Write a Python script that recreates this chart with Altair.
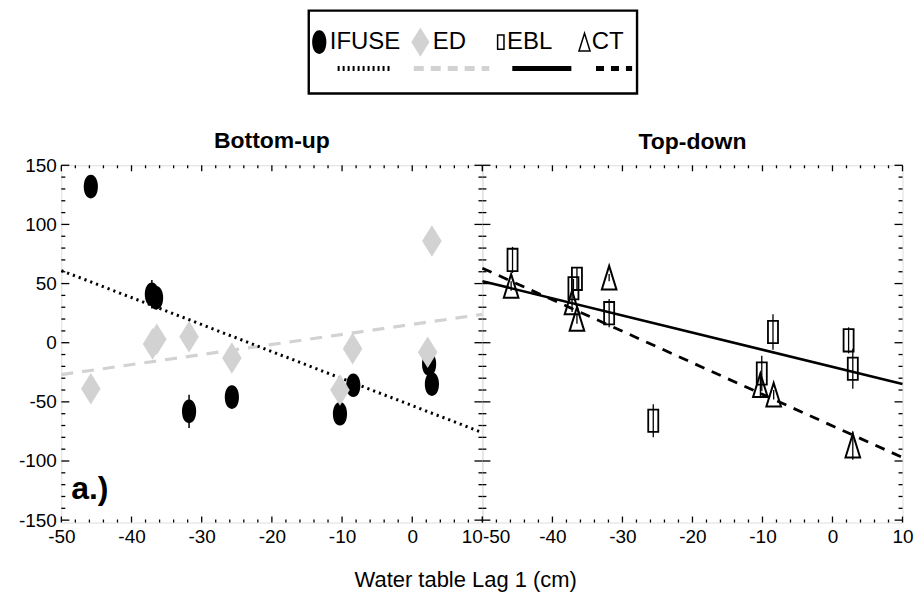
import altair as alt
import pandas as pd

FONT = "Liberation Sans"

# ---------------- data ----------------
# Bottom-up panel
ifuse_x = [-45.8, -37.1, -36.5, -31.8, -25.7, -10.3, -8.4, 2.4, 2.8]
ifuse_y = [132, 41, 38, -58, -46, -60, -36, -18, -35]
ifuse_err = [3, 12, 10, 14, 8, 8, 8, 6, 8]

ed_x = [-45.8, -37.0, -36.4, -31.8, -25.7, -10.3, -8.5, 2.2, 2.8]
ed_y = [-39, -1, 3, 5, -13, -40, -5, -8, 86]
ed_err = [3, 6, 6, 9, 5, 4, 5, 6, 3]

ifuse_fit_x = [-50, 10]
ifuse_fit_y = [61, -76]
ed_fit_x = [-50, 10]
ed_fit_y = [-27, 24]

# Top-down panel
ebl_x = [-45.7, -37.0, -36.5, -31.9, -25.6, -10.1, -8.5, 2.3, 2.9]
ebl_y = [70, 46, 54, 25, -66, -26, 9, 2, -22]
ebl_err = [11, 8, 10, 12, 14, 15, 15, 11, 17]

ct_x = [-45.9, -37.2, -36.5, -31.9, -10.3, -8.4, 2.9]
ct_y = [48, 34, 20, 55, -36, -44, -87]
ct_err = [4, 8, 4, 3, 10, 4, 12]

ebl_fit_x = [-50, 10]
ebl_fit_y = [52, -35]
ct_fit_x = [-50, 10]
ct_fit_y = [63, -97]

panel_titles = ["Bottom-up", "Top-down"]
x_title = "Water table Lag 1 (cm)"
annot_x = [-48.6]
annot_y = [-124]
annot_text = ["a.)"]

legend_names = ["IFUSE", "ED", "EBL", "CT"]

x_major = list(range(-50, 11, 10))
x_minor = [v for v in range(-50, 11, 2) if v % 10 != 0]
y_major = list(range(-150, 151, 50))
y_minor = [v for v in range(-150, 151, 10) if v % 50 != 0]

# ---------------- styles ----------------
ELLIPSE = "M0,-1C0.8,-1 0.8,1 0,1C-0.8,1 -0.8,-1 0,-1Z"
DIAMOND = "M0,-1L0.62,0L0,1L-0.62,0Z"
RECT = "M-0.45,-1H0.45V1H-0.45Z"
TRI = "M0,-1L0.62,1H-0.62Z"
GRAY = "#d2d2d2"

W_L, W_R, H = 422, 421, 358

xs = alt.Scale(domain=[-50, 10], nice=False, zero=False)
ys = alt.Scale(domain=[-152, 150], nice=False, zero=False)


def lab_axis(orient, values, pad, align=None):
    kw = {}
    if align is not None:
        kw["labelAlign"] = align
    return alt.Axis(orient=orient, values=values, ticks=False, tickSize=0, tickOpacity=0,
                    domain=False, grid=False, labels=True, labelFont=FONT, labelFontSize=19,
                    labelColor="black", labelPadding=pad, labelFlush=False,
                    labelOverlap=False, format="d", title=None, **kw)


def df_pts(xv, yv, ev):
    d = pd.DataFrame({"x": xv, "y": yv, "e": ev})
    d["lo"] = d["y"] - d["e"]
    d["hi"] = d["y"] + d["e"]
    return d


def enc(chart, xaxis=None, yaxis=None, yfield="y"):
    return chart.encode(
        x=alt.X("x:Q", scale=xs, axis=xaxis),
        y=alt.Y(f"{yfield}:Q", scale=ys, axis=yaxis),
    )


def inner_ticks(W):
    """Inward-pointing ticks on all four sides, placed by the x / y scales."""
    layers = []
    for vals, ln in ((x_minor, 3), (x_major, 6)):
        d = pd.DataFrame({"v": vals})
        base = alt.Chart(d).mark_rule(color="black", strokeWidth=1.3)
        layers.append(base.encode(x=alt.X("v:Q", scale=xs, axis=None),
                                  y=alt.value(H), y2=alt.value(H - ln)))
        layers.append(base.encode(x=alt.X("v:Q", scale=xs, axis=None),
                                  y=alt.value(0), y2=alt.value(ln)))
    for vals, ln in ((y_minor, 4), (y_major, 8)):
        d = pd.DataFrame({"v": vals})
        base = alt.Chart(d).mark_rule(color="black", strokeWidth=1.3)
        layers.append(base.encode(y=alt.Y("v:Q", scale=ys, axis=None),
                                  x=alt.value(0), x2=alt.value(ln)))
        layers.append(base.encode(y=alt.Y("v:Q", scale=ys, axis=None),
                                  x=alt.value(W), x2=alt.value(W - ln)))
    return layers


def title(t, off):
    return alt.TitleParams(t, font=FONT, fontSize=23, fontWeight="bold", frame="group",
                           color="black", anchor="middle", offset=off)


# ---------------- left panel ----------------
d_if = df_pts(ifuse_x, ifuse_y, ifuse_err)
d_ed = df_pts(ed_x, ed_y, ed_err)
d_iff = pd.DataFrame({"x": ifuse_fit_x, "y": ifuse_fit_y})
d_edf = pd.DataFrame({"x": ed_fit_x, "y": ed_fit_y})
d_ann = pd.DataFrame({"x": annot_x, "y": annot_y, "t": annot_text})

left_align = {"condition": {"test": f"datum.value === {x_major[-1]}", "value": "right"},
              "value": "center"}
right_align = {"condition": {"test": f"datum.value === {x_major[0]}", "value": "left"},
               "value": "center"}

l0 = enc(alt.Chart(d_edf).mark_line(color=GRAY, strokeWidth=3.2, strokeDash=[12, 9]),
         lab_axis("bottom", x_major, 5, left_align), lab_axis("left", y_major, 5))
l1 = enc(alt.Chart(d_iff).mark_line(color="black", strokeWidth=3, strokeDash=[2.2, 4]))
l2 = enc(alt.Chart(d_if).mark_rule(color="black", strokeWidth=1.5), yfield="lo").encode(y2="hi:Q")
l3 = enc(alt.Chart(d_if).mark_point(shape=ELLIPSE, size=560, filled=True, color="black", opacity=1))
l4 = enc(alt.Chart(d_ed).mark_rule(color=GRAY, strokeWidth=1.5), yfield="lo").encode(y2="hi:Q")
l5 = enc(alt.Chart(d_ed).mark_point(shape=DIAMOND, size=1000, filled=True, color=GRAY, opacity=1))
l6 = enc(alt.Chart(d_ann).mark_text(align="left", baseline="middle", font=FONT, fontSize=32,
                                    fontWeight="bold", color="black")).encode(text="t:N")

left = alt.layer(l0, *inner_ticks(W_L), l1, l2, l3, l4, l5, l6).resolve_axis(
    x="independent", y="independent").properties(
    width=W_L, height=H, title=title(panel_titles[0], 3))

# ---------------- right panel ----------------
d_eb = df_pts(ebl_x, ebl_y, ebl_err)
d_ct = df_pts(ct_x, ct_y, ct_err)
d_ebf = pd.DataFrame({"x": ebl_fit_x, "y": ebl_fit_y})
d_ctf = pd.DataFrame({"x": ct_fit_x, "y": ct_fit_y})

r0 = enc(alt.Chart(d_ebf).mark_line(color="black", strokeWidth=2.6),
         lab_axis("bottom", x_major, 5, right_align), None)
r1 = enc(alt.Chart(d_ctf).mark_line(color="black", strokeWidth=2.8, strokeDash=[10, 8]))
r2 = enc(alt.Chart(d_ct).mark_rule(color="black", strokeWidth=1.3), yfield="lo").encode(y2="hi:Q")
r3 = enc(alt.Chart(d_ct).mark_point(shape=TRI, size=560, filled=False, color="black",
                                    strokeWidth=2, opacity=1))
r4 = enc(alt.Chart(d_eb).mark_rule(color="black", strokeWidth=1.3), yfield="lo").encode(y2="hi:Q")
r5 = enc(alt.Chart(d_eb).mark_point(shape=RECT, size=500, filled=False, color="black",
                                    strokeWidth=1.8, opacity=1))

right = alt.layer(r0, *inner_ticks(W_R), r1, r2, r3, r4, r5).resolve_axis(
    x="independent", y="independent").properties(
    width=W_R, height=H, title=title(panel_titles[1], 11))

panels = alt.hconcat(left, right, spacing=0, bounds="flush").properties(
    title=alt.TitleParams(x_title, orient="bottom", anchor="middle", font=FONT, fontSize=22,
                          fontWeight="normal", color="black", offset=23)
)

# ---------------- legend box ----------------
leg_style = {
    "IFUSE": dict(shape=ELLIPSE, size=560, filled=True, fill="black", stroke="black",
                  sw=0, line="black", dash=[2, 3]),
    "ED": dict(shape=DIAMOND, size=860, filled=True, fill=GRAY, stroke=GRAY,
               sw=0, line=GRAY, dash=[10, 7]),
    "EBL": dict(shape=RECT, size=200, filled=False, fill="transparent", stroke="black",
                sw=1.5, line="black", dash=[1, 0]),
    "CT": dict(shape=TRI, size=320, filled=False, fill="transparent", stroke="black",
               sw=1.5, line="black", dash=[8, 7]),
}
# layout of the legend entries (fractions of the box)
sym_pos = [0.032, 0.34, 0.585, 0.84]
lab_pos = [0.064, 0.378, 0.604, 0.862]
ln_start = [0.088, 0.32, 0.62, 0.875]
ln_end = [0.25, 0.55, 0.80, 0.985]

d_leg = pd.DataFrame({"name": legend_names, "sx": sym_pos, "lx": lab_pos,
                      "a": ln_start, "b": ln_end, "sy": 0.62, "ly": 0.3,
                      "g0": 1.0, "g1": 1.085})
lxs = alt.Scale(domain=[0, 1], nice=False, zero=False)
lys = alt.Scale(domain=[0, 1], nice=False, zero=False)

leg_layers = [
    alt.Chart(d_leg).mark_text(align="left", baseline="middle", font=FONT, fontSize=24,
                               color="black").encode(
        x=alt.X("lx:Q", scale=lxs, axis=None), y=alt.Y("sy:Q", scale=lys, axis=None), text="name:N"),
    # invisible spacer that shifts the centred box a little to the left
    alt.Chart(d_leg).mark_rule(strokeOpacity=0, clip=False).encode(
        x=alt.X("g0:Q", scale=lxs, axis=None), x2="g1:Q", y=alt.Y("sy:Q", scale=lys, axis=None)),
]
for n in legend_names:
    s = leg_style[n]
    base = alt.Chart(d_leg).transform_filter(alt.datum.name == n)
    leg_layers.append(base.mark_point(shape=s["shape"], size=s["size"], filled=s["filled"],
                                      fill=s["fill"], stroke=s["stroke"], strokeWidth=s["sw"],
                                      opacity=1).encode(
        x=alt.X("sx:Q", scale=lxs, axis=None), y=alt.Y("sy:Q", scale=lys, axis=None)))
    leg_layers.append(base.mark_rule(color=s["line"], strokeWidth=5, strokeDash=s["dash"]).encode(
        x=alt.X("a:Q", scale=lxs, axis=None), x2="b:Q", y=alt.Y("ly:Q", scale=lys, axis=None)))

legend = alt.layer(*leg_layers).properties(
    width=329, height=83,
    view=alt.ViewBackground(stroke="black", strokeWidth=2.4),
)

chart = alt.vconcat(legend, panels, spacing=34, center=True).properties(
    padding={"left": 17, "top": 8, "right": 9, "bottom": 0},
    background="white",
).configure_view(stroke="black", strokeWidth=1.6).configure_title(font=FONT).configure(
    locale={"number": {"decimal": ".", "thousands": ",", "grouping": [3],
                       "currency": ["$", ""], "minus": "-"}}
)

chart.save("out.html", embed_options={"renderer": "svg", "actions": False})
